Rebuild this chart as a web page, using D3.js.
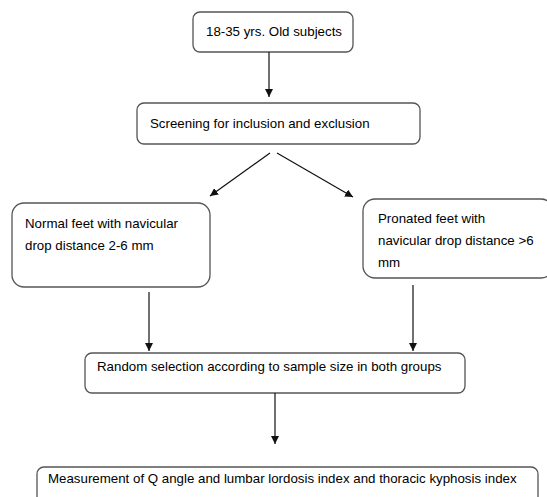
<!DOCTYPE html>
<html>
<head>
<meta charset="utf-8">
<script src="https://cdn.jsdelivr.net/npm/d3@7"></script>
<style>
  body { margin: 0; background: #fff; }
  text { font-family: "Liberation Sans", Arial, sans-serif; font-size: 13.3px; fill: #000; }
</style>
</head>
<body>
<div id="chart"></div>
<script>
// flowchart steps (text only)
var stepIds = ["subjects", "screening", "normal", "pronated", "random", "measure"];
var stepLines = [
    ["18-35 yrs. Old subjects"],
    ["Screening for inclusion and exclusion"],
    ["Normal feet with navicular", "drop distance 2-6 mm"],
    ["Pronated feet with", "navicular drop distance >6", "mm"],
    ["Random selection according to sample size in both groups"],
    ["Measurement of Q angle and lumbar lordosis index and thoracic kyphosis index"]
];
var links = [
    ["subjects", "screening"],
    ["screening", "normal"],
    ["screening", "pronated"],
    ["normal", "random"],
    ["pronated", "random"],
    ["random", "measure"]
];

var width = 547, height = 497;

// layout of the boxes
var layout = {
    subjects:  { x: 193, y: 12,  w: 160, h: 40, r: 7,  align: "middle", tx: 274, ty: 31 },
    screening: { x: 137, y: 103, w: 283, h: 41, r: 7,  align: "start", tx: 150, ty: 123 },
    normal:    { x: 12,  y: 203, w: 198, h: 84, r: 12, align: "start", tx: 25,  ty: 223 },
    pronated:  { x: 363, y: 199, w: 190, h: 79, r: 12, align: "start", tx: 378, ty: 218 },
    random:    { x: 85,  y: 353, w: 380, h: 40, r: 7,  align: "start", tx: 97,  ty: 366 },
    measure:   { x: 37,  y: 467, w: 501, h: 40, r: 7,  align: "start", tx: 48,  ty: 478 }
};
var lineGap = 22;

// arrow endpoints
var arrowPts = {
    "subjects-screening": [[269, 52], [269, 97]],
    "screening-normal":   [[270, 153], [210, 196]],
    "screening-pronated": [[277, 153], [353, 197]],
    "normal-random":      [[149, 292], [149, 351]],
    "pronated-random":    [[413, 285], [413, 351]],
    "random-measure":     [[275, 393], [275, 444]]
};

var svg = d3.select("#chart").append("svg")
    .attr("width", width)
    .attr("height", height);

svg.append("defs").append("marker")
    .attr("id", "head")
    .attr("viewBox", "0 0 10 10")
    .attr("refX", 10)
    .attr("refY", 5)
    .attr("markerWidth", 8)
    .attr("markerHeight", 8)
    .attr("markerUnits", "userSpaceOnUse")
    .attr("orient", "auto")
    .append("path")
    .attr("d", "M0,0 L10,5 L0,10 Z")
    .attr("fill", "#111");

var steps = stepIds.map(function (id, i) {
    return { id: id, lines: stepLines[i], box: layout[id] };
});

var node = svg.selectAll("g.step").data(steps).enter()
    .append("g")
    .attr("class", "step");

node.append("rect")
    .attr("x", function (d) { return d.box.x })
    .attr("y", function (d) { return d.box.y })
    .attr("width", function (d) { return d.box.w })
    .attr("height", function (d) { return d.box.h })
    .attr("rx", function (d) { return d.box.r })
    .attr("fill", "#fff")
    .attr("stroke", "#555")
    .attr("stroke-width", 1.3);

node.each(function (d) {
    var t = d3.select(this).append("text")
        .attr("text-anchor", d.box.align)
        .attr("dominant-baseline", "central");
    t.selectAll("tspan").data(d.lines).enter()
        .append("tspan")
        .attr("x", d.box.tx)
        .attr("y", function (l, i) { return d.box.ty + i * lineGap })
        .text(function (l) { return l });
});

var line = d3.line();

svg.selectAll("path.link").data(links).enter()
    .append("path")
    .attr("class", "link")
    .attr("d", function (d) { return line(arrowPts[d[0] + "-" + d[1]]) })
    .attr("fill", "none")
    .attr("stroke", "#111")
    .attr("stroke-width", 1.2)
    .attr("marker-end", "url(#head)");
</script>
</body>
</html>
